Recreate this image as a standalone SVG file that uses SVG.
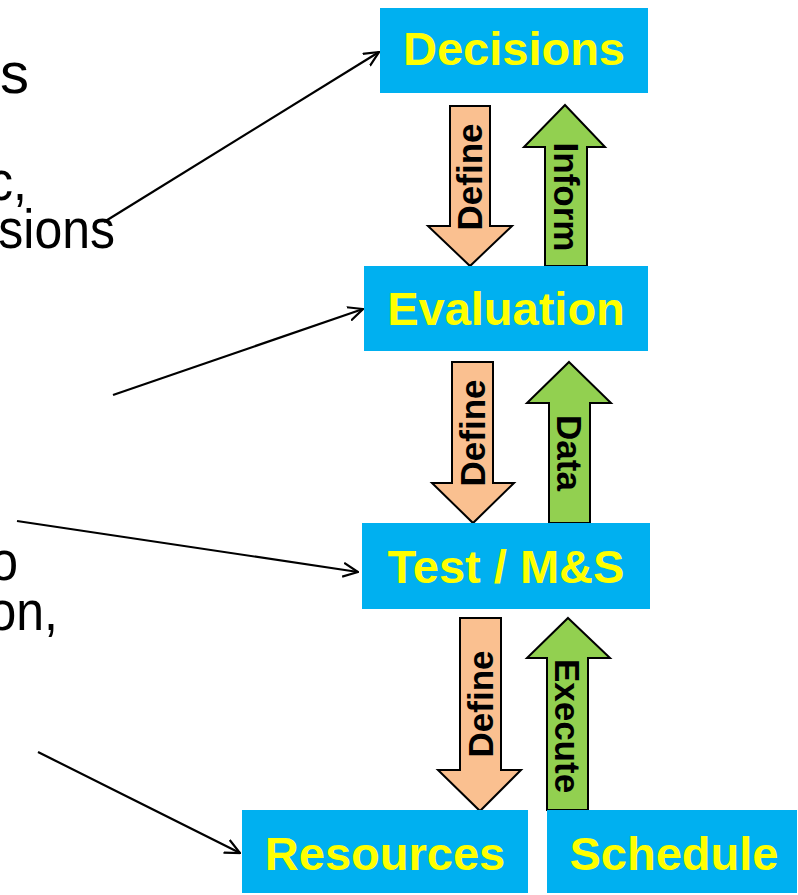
<svg xmlns="http://www.w3.org/2000/svg" width="798" height="895" viewBox="0 0 798 895">
<style>
.box{fill:#00B0F0}
.bt{font-family:"Liberation Sans",Arial,sans-serif;font-weight:bold;font-size:47px;fill:#FFFF00;text-anchor:middle}
.def{fill:#FAC090;stroke:#000;stroke-width:2}
.up{fill:#92D050;stroke:#000;stroke-width:2}
.at{font-family:"Liberation Sans",Arial,sans-serif;font-weight:bold;font-size:35px;fill:#000;text-anchor:middle}
.lt{font-family:"Liberation Sans",Arial,sans-serif;font-size:50px;fill:#000;text-anchor:end}
.con{stroke:#000;stroke-width:2.2;fill:none;marker-end:url(#ah)}
</style>
<defs>
<marker id="ah" markerUnits="userSpaceOnUse" viewBox="0 0 16 16" refX="15" refY="8" markerWidth="16" markerHeight="16" orient="auto">
<path d="M0,1 L15,8 L0,15" fill="none" stroke="#000" stroke-width="2.2"/>
</marker>
</defs>
<g id="left-text">
<text class="lt" transform="translate(29,93)" style="font-size:58px">s</text>
<text class="lt" transform="translate(27,200) scale(1,1.1)">c,</text>
<text class="lt" transform="translate(115,248) scale(1,1.1)">sions</text>
<text class="lt" transform="translate(18,580) scale(1,1.1)">o</text>
<text class="lt" transform="translate(58,630) scale(1,1.1)">on,</text>
</g>
<g id="arrows">
<g id="define1"><polygon class="def" points="450,106 490,106 490,226 512,226 470,266 428,226 450,226"/><text class="at" transform="translate(482,177) rotate(-90)">Define</text></g>
<g id="inform"><polygon class="up" points="565,105 605,147 587,147 587,266 545,266 545,147 524,147"/><text class="at" transform="translate(553.5,197) rotate(90)">Inform</text></g>
<g id="define2"><polygon class="def" points="452,362 493,362 493,483 514,483 473,523 432,483 452,483"/><text class="at" transform="translate(485,433) rotate(-90)">Define</text></g>
<g id="data"><polygon class="up" points="569,362 611,403 590,403 590,523 549,523 549,403 527,403"/><text class="at" transform="translate(557,453) rotate(90)">Data</text></g>
<g id="define3"><polygon class="def" points="460,618 501,618 501,770 521,770 480,811 438,770 460,770"/><text class="at" transform="translate(493,704) rotate(-90)">Define</text></g>
<g id="execute"><polygon class="up" points="568,618 610,658 588,658 588,810 547,810 547,658 527,658"/><text class="at" transform="translate(555,726) rotate(90)">Execute</text></g>
</g>
<g id="decisions"><rect class="box" x="380" y="8" width="268" height="85"/><text class="bt" x="514" y="65">Decisions</text></g>
<g id="evaluation"><rect class="box" x="364" y="266" width="284" height="85"/><text class="bt" x="506" y="325">Evaluation</text></g>
<g id="test"><rect class="box" x="362" y="523" width="288" height="86"/><text class="bt" x="506" y="583">Test / M&amp;S</text></g>
<g id="resources"><rect class="box" x="242" y="810" width="286" height="83"/><text class="bt" x="385" y="870">Resources</text></g>
<g id="schedule"><rect class="box" x="547" y="810" width="250" height="83"/><text class="bt" x="674" y="870">Schedule</text></g>
<g id="connectors">
<line class="con" x1="104" y1="222" x2="379" y2="52"/>
<line class="con" x1="113" y1="395" x2="363" y2="309"/>
<line class="con" x1="17" y1="521" x2="358" y2="572"/>
<line class="con" x1="38" y1="752" x2="240" y2="853"/>
</g>
</svg>
